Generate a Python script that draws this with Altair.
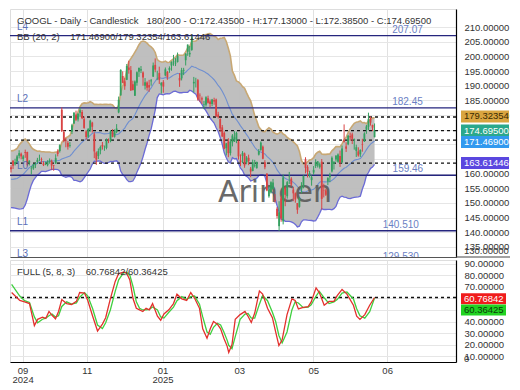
import altair as alt
import pandas as pd
import numpy as np

# ---------------- GOOGL daily OHLC (20 warm-up bars, then 180 shown bars) ----------------
opens = [164.2,164.3,162.6,162.2,161.7,156.7,156.4,157.3,152.5,149.4,149.0,152.2,155.4,157.3,159.3,160.0,163.0,164.2,164.6,162.8,
         162.2,164.4,163.2,164.1,166.1,166.8,165.0,167.4,167.4,163.8,
         161.8,161.8,162.9,164.0,165.5,164.9,163.5,163.4,162.9,164.0,
         164.4,162.9,163.5,167.6,167.7,181.8,174.2,171.5,170.5,169.4,
         174.3,177.1,180.2,178.5,180.8,181.0,178.6,174.4,172.6,174.8,
         177.4,173.4,167.2,166.0,167.9,169.8,169.0,168.8,171.5,171.1,
         174.4,172.6,174.3,180.9,186.7,193.3,191.5,192.0,196.2,195.3,
         190.5,186.6,191.0,194.8,195.2,194.5,190.0,191.1,190.2,191.5,
         193.1,197.1,193.9,194.3,190.1,191.2,193.5,194.7,195.4,196.9,
         198.2,197.6,198.1,192.6,192.5,195.1,198.7,201.6,200.7,202.2,
         190.8,191.6,191.9,186.6,185.7,183.4,183.5,185.7,184.6,183.8,
         185.1,185.3,180.2,178.6,175.8,173.9,168.7,171.0,167.0,170.7,
         171.0,171.6,171.0,164.5,166.0,166.9,163.9,165.4,161.7,160.9,
         162.6,161.9,166.5,168.1,169.2,163.9,160.0,152.3,153.6,154.8,
         150.9,148.0,142.1,151.6,143.7,155.3,152.3,159.0,158.3,154.6,
         153.3,150.0,148.7,154.6,155.6,164.9,162.3,159.2,157.8,160.4,
         162.6,162.8,162.2,164.1,154.4,154.3,157.3,158.8,160.7,163.4,
         164.8,164.1,166.0,163.9,171.4,169.3,170.0,172.8,173.4,171.4,
         167.8,167.6,166.6,170.0,171.0,175.0,176.0,178.9,176.6,172.435]
highs = [165.2,164.8,164.6,163.6,162.0,159.4,158.5,157.8,153.4,149.6,151.5,155.0,158.0,158.5,161.0,161.2,163.6,164.9,164.8,163.3,
         162.9,164.6,165.1,166.4,168.0,167.2,166.4,168.2,167.5,164.6,
         162.6,163.3,163.9,165.4,166.5,165.5,164.2,164.1,164.6,165.2,
         164.8,163.0,166.6,168.3,170.0,182.6,174.9,172.2,171.1,170.8,
         177.0,181.0,181.5,180.6,182.5,181.7,179.5,174.8,175.5,178.4,
         177.7,174.1,167.6,168.6,169.6,170.8,169.6,172.0,172.0,174.8,
         175.2,175.1,176.9,186.3,195.6,194.9,192.7,197.4,198.5,196.7,
         191.7,191.8,194.9,196.1,196.7,194.9,192.6,191.5,192.0,192.3,
         197.9,199.3,195.1,196.5,191.2,191.9,196.2,195.0,196.6,198.3,
         200.5,199.4,201.3,194.3,196.1,196.1,201.1,204.1,203.5,207.1,
         193.0,192.7,192.3,187.4,186.3,184.8,186.4,186.6,185.3,185.5,
         185.9,185.6,181.1,178.9,176.6,174.4,170.5,172.1,171.8,173.5,
         174.5,174.3,171.3,166.6,167.7,167.2,166.0,166.5,162.3,164.8,
         164.7,164.1,168.4,171.0,169.6,164.6,160.2,155.8,157.4,158.2,
         153.0,148.6,150.6,152.5,159.7,155.6,157.5,160.6,158.8,155.5,
         153.6,150.0,152.0,157.1,159.4,165.6,162.9,161.0,159.4,162.6,
         164.9,164.3,163.8,165.0,156.6,154.8,158.8,160.3,165.9,164.3,
         166.2,166.9,167.9,169.6,176.8,170.7,173.2,174.0,174.0,172.0,
         169.9,169.0,168.3,171.9,174.1,176.6,180.8,179.5,176.7,177.13]
lows = [162.9,161.3,161.0,160.5,156.6,155.9,155.9,150.5,147.2,146.5,147.0,151.6,155.0,156.4,158.4,158.8,160.7,161.7,160.9,160.8,
        160.4,161.6,162.8,163.6,165.2,164.9,164.1,165.4,162.5,162.8,
        159.7,161.3,161.9,163.3,164.3,163.5,162.6,162.9,162.5,163.4,
        161.2,161.0,163.3,165.9,167.2,174.2,170.7,169.0,168.2,168.9,
        173.5,177.0,178.0,177.8,179.4,178.6,175.3,171.6,172.2,174.3,
        174.0,165.3,163.0,165.0,166.6,168.2,167.8,168.3,170.4,170.7,
        172.4,172.3,173.8,180.6,186.6,190.8,188.6,191.9,194.1,188.2,
        188.4,186.5,190.0,193.0,194.3,190.0,188.7,188.3,187.9,190.0,
        193.0,194.6,191.9,190.6,187.3,187.6,193.2,192.0,194.4,195.1,
        196.8,196.7,197.9,189.6,191.8,193.6,196.9,200.2,199.8,201.9,
        187.7,189.4,184.9,184.5,183.8,182.0,182.9,183.9,182.6,183.0,
        183.5,179.3,178.8,174.3,172.5,168.3,166.2,165.6,166.2,169.3,
        170.8,170.4,164.8,162.6,163.6,162.0,163.2,162.9,158.8,160.8,
        162.1,161.7,166.2,167.8,164.9,161.5,154.0,151.8,153.2,154.6,
        150.1,144.7,140.5,143.6,142.7,148.9,151.5,156.5,155.7,150.6,
        150.1,146.3,148.4,153.3,155.0,160.1,158.7,158.7,155.9,159.6,
        161.9,162.1,161.7,147.8,151.9,152.4,156.1,157.1,160.4,161.4,
        164.1,163.7,162.3,163.5,170.6,167.4,169.7,171.2,170.1,168.2,
        165.7,165.8,165.7,167.5,170.8,173.6,174.8,176.4,174.5,172.385]
closes = [164.7,162.1,161.8,163.4,157.4,156.5,157.2,150.9,148.7,148.7,151.2,154.7,157.5,158.1,160.3,159.8,163.2,164.6,161.9,162.3,
          161.5,162.7,164.0,165.9,167.0,165.9,165.9,167.1,163.0,164.4,
          161.9,163.2,163.2,164.7,165.5,164.7,162.9,163.4,164.1,164.5,
          162.8,162.7,165.3,166.7,169.7,174.5,171.1,171.3,169.2,169.7,
          176.5,180.8,178.4,180.4,181.6,178.9,175.6,172.5,175.3,178.1,
          176.0,167.6,164.8,167.7,169.1,169.2,169.0,171.5,171.3,174.4,
          172.6,174.7,175.4,185.2,195.4,191.0,189.8,196.7,195.4,188.4,
          188.5,191.4,194.6,196.1,195.6,192.8,191.2,189.3,189.4,191.8,
          196.9,195.5,193.9,192.0,191.0,189.7,195.6,192.9,196.0,198.1,
          198.4,197.9,200.2,191.8,195.3,195.4,200.9,204.0,201.2,206.4,
          191.3,191.6,185.3,186.5,185.3,183.6,186.1,184.2,183.8,185.3,
          184.6,179.7,179.3,175.4,172.7,168.5,170.3,167.0,170.9,173.0,
          172.4,173.9,165.9,164.0,167.1,162.8,165.5,164.3,160.7,163.9,
          162.8,164.0,167.7,170.6,165.1,162.2,154.3,154.6,157.1,157.0,
          150.7,145.6,146.8,144.7,158.7,152.8,157.1,159.1,156.3,153.3,
          151.2,147.7,151.5,155.4,159.3,162.0,160.6,160.2,158.8,161.3,
          164.0,164.2,163.2,151.4,154.3,152.8,158.5,159.5,165.4,164.0,
          166.2,166.5,164.0,168.6,170.9,168.5,172.9,172.4,171.9,171.7,
          169.0,166.2,168.1,169.8,173.7,176.1,178.6,177.4,175.7,174.695]
WARMUP = 20

# ---------------- Full stochastic (5, 8, 3) ----------------
st_i = [0.3,4.3,6.7,9.1,11.5,13.1,15.5,17.1,18.7,20.2,21.9,23.4,25.0,27.4,29.8,32.2,33.8,36.2,37.8,40.2,
        42.6,45.0,46.6,48.9,51.3,53.0,55.4,56.9,58.5,60.1,61.7,63.3,64.9,66.5,68.1,69.7,72.1,73.7,75.3,77.7,
        80.0,81.7,84.1,86.5,88.5,90.4,92.8,94.4,96.5,98.1,99.7,101.6,103.2,104.8,106.4,107.2,108.8,110.4,112.8,115.2,
        116.7,118.3,120.0,122.3,123.9,126.3,128.7,130.3,131.9,133.5,135.9,138.3,139.9,141.5,143.9,146.3,147.8,150.2,151.8,154.2,
        156.6,159.0,160.6,163.0,165.4,168.6,170.2,171.8,174.2,176.6,179.0]
st_k = [65.0,58.2,56.9,55.5,36.5,41.9,43.8,42.7,48.7,45.4,42.4,48.7,59.0,55.5,54.7,57.4,65.0,64.5,58.2,44.6,
        31.8,37.8,43.3,59.6,74.6,81.4,82.7,81.9,75.9,59.6,51.4,50.1,48.7,51.4,50.1,55.5,44.6,41.1,46.5,50.1,
        55.5,63.7,59.6,58.2,65.0,60.1,51.4,33.7,25.6,33.7,40.0,37.8,33.7,25.6,18.8,13.3,20.1,41.9,46.0,48.7,
        44.6,39.2,47.3,66.4,63.7,51.4,43.3,31.0,19.3,24.2,46.0,59.6,58.2,50.9,52.2,52.8,56.9,69.1,65.0,54.1,
        57.4,57.4,62.3,67.7,63.7,54.1,44.6,41.9,46.0,54.1,60.77]
st_d = [72.0,62.0,58.0,56.5,44.0,39.0,42.0,43.0,45.0,46.5,44.0,45.0,53.0,57.0,55.0,56.0,61.0,65.0,62.0,51.0,
        37.0,34.0,39.0,50.0,66.0,76.0,82.0,82.5,80.0,70.0,57.0,51.5,50.0,50.0,50.5,52.5,50.0,44.0,43.0,48.0,
        52.5,58.0,61.5,59.0,61.5,62.0,55.0,44.0,31.0,29.0,35.0,38.5,37.0,31.0,24.0,19.5,16.5,27.0,42.0,46.5,
        47.0,43.0,43.0,55.0,62.5,58.0,48.0,40.0,28.0,21.5,31.0,50.0,57.0,56.0,52.0,52.5,54.5,62.0,66.0,60.5,
        55.5,57.0,59.0,64.5,65.5,59.5,51.0,45.0,43.0,48.5,60.36]

# ---------------- levels, current values, axis ticks ----------------
level_names = ["L4", "L2", "L0", "L1", "L3"]
level_values = [207.07, 182.45, 159.46, 140.51, 129.53]
level_texts = ["207.07", "182.45", "159.46", "140.510", "129.530"]
level_text_i = [195.2, 195.2, 195.4, 191.9, 191.9]
dashed_values = [179.32354, 174.695, 171.469, 163.61446]

box_texts = ["179.32354", "174.69500", "171.46900", "163.61446"]
box_values = [179.32354, 174.695, 171.469, 163.61446]
box_shift = [0.2, 0.0, -0.7, 0.0]
box_fill = ["#d9a540", "#2aa88c", "#3199ef", "#5a47df"]
box_tcol = ["#3a2a00", "#ffffff", "#ffffff", "#ffffff"]

st_box_texts = ["60.76842", "60.36425"]
st_box_values = [60.76842, 60.36425]
st_box_shift = [-1.0, -10.5]
st_box_fill = ["#f01c1c", "#22d322"]
st_box_tcol = ["#ffffff", "#0b3a0b"]
st_dash = 60.76842

tick_pos = [5.7, 37.3, 74.6, 112.4, 148.8, 185.2]
tick_top = ["09", "11", "01", "03", "05", "06"]
tick_sub = ["2024", "", "2025", "", "", ""]
price_ticks = [135, 140, 145, 150, 155, 160, 165, 170, 175, 180, 185, 190, 195, 200, 205, 210]
stoch_ticks = [10, 20, 30, 40, 50, 60, 70, 80, 90]
clamped_price_label = "130.00000"
clamped_stoch_label = "0"

title_main = "GOOGL - Daily - Candlestick\u00a0\u00a0\u00a0180/200 - O:172.43500 - H:177.13000 - L:172.38500 - C:174.69500"
title_bb = "BB (20, 2)\u00a0\u00a0\u00a0\u00a0171.46900/179.32354/163.61446"
title_st = "FULL (5, 8, 3)\u00a0\u00a0\u00a0\u00a060.76842/60.36425"

# ---------------- derived tables ----------------
df = pd.DataFrame({"i": list(range(-WARMUP, len(closes) - WARMUP)),
                   "o": opens, "h": highs, "l": lows, "c": closes})
roll = df["c"].rolling(20)
df["mid"] = roll.mean()
df["sd"] = roll.std(ddof=0)
df["up"] = df["mid"] + 2 * df["sd"]
df["lo"] = df["mid"] - 2 * df["sd"]
df["dir"] = np.where(df["c"] >= df["o"], "up", "down")
bars = df[df["i"] >= 0].reset_index(drop=True)

levels = pd.DataFrame({"name": level_names, "p": level_values, "t": level_texts, "ti": level_text_i})
dashes = pd.DataFrame({"p": dashed_values})
boxes = pd.DataFrame({"t": box_texts, "v": box_values, "s": box_shift, "f": box_fill, "tc": box_tcol})
boxes["c"] = boxes["v"] + boxes["s"]
boxes["b0"] = boxes["c"] - 2.05
boxes["b1"] = boxes["c"] + 2.05
st = pd.DataFrame({"i": st_i, "k": st_k, "d": st_d})
st_boxes = pd.DataFrame({"t": st_box_texts, "v": st_box_values, "s": st_box_shift,
                         "f": st_box_fill, "tc": st_box_tcol})
st_boxes["c"] = st_boxes["v"] + st_boxes["s"]
st_boxes["b0"] = st_boxes["c"] - 4.75
st_boxes["b1"] = st_boxes["c"] + 4.75

# ---------------- layout / scales ----------------
W, H1, H2 = 446, 248, 102
FS = 9.5
xs = alt.Scale(domain=[-0.5, 219.1], nice=False, zero=False)
ys = alt.Scale(domain=[131.58, 216.16], nice=False, zero=False)
ss = alt.Scale(domain=[5.1, 93.1], nice=False, zero=False)

xax_top = alt.Axis(values=tick_pos, labels=False, ticks=False, grid=True, gridColor="#e1e1e1",
                   domainColor="#555555", domainWidth=1, title=None)
parts = [f"['{a}','{b}']" if b else f"'{a}'" for a, b in zip(tick_top, tick_sub)]
label_expr = f"[{','.join(parts)}][indexof([{','.join(str(p) for p in tick_pos)}], datum.value)]"
xax_bot = alt.Axis(values=tick_pos, labelExpr=label_expr, ticks=False, grid=True, gridColor="#e1e1e1",
                   domainColor="#000000", domainWidth=1.2, labelFontSize=FS, labelColor="#333333",
                   labelPadding=3, labelLineHeight=9, labelAngle=0, title=None)
yax_main = alt.Axis(orient="right", values=price_ticks, format=".5f", ticks=False, labelPadding=8,
                    grid=True, gridColor="#e6e6e6", domainColor="#000000", domainWidth=1.2,
                    labelFontSize=FS, labelColor="#333333", title=None)
yax_st = alt.Axis(orient="right", values=stoch_ticks, format=".5f", ticks=False, labelPadding=8,
                  grid=True, gridColor="#e6e6e6", domainColor="#000000", domainWidth=1.2,
                  labelFontSize=FS, labelColor="#333333", title=None)

def X(f):
    return alt.X(f, type="quantitative", scale=xs, axis=xax_top)

def Y(f):
    return alt.Y(f, type="quantitative", scale=ys, axis=yax_main)

def XS(f):
    return alt.X(f, type="quantitative", scale=xs, axis=xax_bot)

def YS(f):
    return alt.Y(f, type="quantitative", scale=ss, axis=yax_st)

def note(text, x, y, **kw):
    opts = dict(align="left", baseline="middle", fontSize=FS, color="#333333")
    opts.update(kw)
    return alt.Chart(pd.DataFrame({"t": [text]})).mark_text(**opts).encode(
        x=alt.value(x), y=alt.value(y), text="t:N")

base = alt.Chart(bars)
candle_color = alt.Color("dir:N", scale=alt.Scale(domain=["up", "down"], range=["#34a060", "#d94343"]), legend=None)

band = base.mark_area(color="#bcbcbc", opacity=0.95, clip=True).encode(x=X("i"), y=Y("up"), y2="lo")
up_line = base.mark_line(color="#c8a874", strokeWidth=1.6, clip=True).encode(x=X("i"), y=Y("up"))
lo_line = base.mark_line(color="#6b6bd6", strokeWidth=1.3, clip=True).encode(x=X("i"), y=Y("lo"))
mid_line = base.mark_line(color="#6f8fd0", strokeWidth=1.1, clip=True).encode(x=X("i"), y=Y("mid"))
lvl_rules = alt.Chart(levels).mark_rule(color="#25257e", strokeWidth=1.4, clip=True).encode(y=Y("p"))
dash_rules = alt.Chart(dashes).mark_rule(color="#111111", strokeWidth=1.3, strokeDash=[3, 3], clip=True).encode(y=Y("p"))
watermark = note("Arincen", 265, 184, font="DejaVu Sans", fontSize=30, color="#5a5a5a", opacity=0.9, align="center")
wicks = base.mark_rule(strokeWidth=1, clip=True).encode(x=X("i"), y=Y("l"), y2="h", color=candle_color)
bodies = base.mark_rule(strokeWidth=1.8, clip=True).encode(x=X("i"), y=Y("o"), y2="c", color=candle_color)
lvl_names = alt.Chart(levels).mark_text(align="left", baseline="middle", dy=-9, fontSize=10,
                                        color="#5a6fb8", clip=True).encode(x=alt.value(7), y=Y("p"), text="name:N")
lvl_vals = alt.Chart(levels).mark_text(align="center", baseline="middle", dy=-6, fontSize=10,
                                       color="#6a80c4", clip=True).encode(x=X("ti"), y=Y("p"), text="t:N")
t1 = note(title_main, 7, 11.5)
t2 = note(title_bb, 7, 27.5)
low_lbl = note(clamped_price_label, W + 8, H1 - 6)
sep_ext = alt.Chart(pd.DataFrame({"a": [0]})).mark_rule(color="#444444", strokeWidth=1).encode(
    x=alt.value(W), x2=alt.value(W + 54), y=alt.value(H1))
box_rect = alt.Chart(boxes).mark_rect().encode(
    x=alt.value(W + 5), x2=alt.value(W + 53), y=Y("b0"), y2="b1", color=alt.Color("f:N", scale=None))
box_txt = alt.Chart(boxes).mark_text(align="left", baseline="middle", fontSize=FS).encode(
    x=alt.value(W + 8), y=Y("c"), text="t:N", color=alt.Color("tc:N", scale=None))

top = alt.layer(band, up_line, lo_line, mid_line, lvl_rules, dash_rules, watermark, wicks, bodies,
                lvl_names, lvl_vals, t1, t2, low_lbl, sep_ext, box_rect, box_txt).properties(width=W, height=H1)

stb = alt.Chart(st)
st_dash_rule = alt.Chart(pd.DataFrame({"v": [st_dash]})).mark_rule(
    color="#111111", strokeWidth=1.3, strokeDash=[3, 3]).encode(y=YS("v"))
d_line = stb.mark_line(color="#3fcf3f", strokeWidth=1.3, clip=True).encode(x=XS("i"), y=YS("d"))
k_line = stb.mark_line(color="#e3302c", strokeWidth=1.3, clip=True).encode(x=XS("i"), y=YS("k"))
t3 = note(title_st, 7, 11.5)
zero_lbl = note(clamped_stoch_label, W + 8, H2 - 3)
st_rect = alt.Chart(st_boxes).mark_rect().encode(
    x=alt.value(W + 5), x2=alt.value(W + 50), y=YS("b0"), y2="b1", color=alt.Color("f:N", scale=None))
st_txt = alt.Chart(st_boxes).mark_text(align="left", baseline="middle", fontSize=FS).encode(
    x=alt.value(W + 8), y=YS("c"), text="t:N", color=alt.Color("tc:N", scale=None))

bottom = alt.layer(st_dash_rule, d_line, k_line, t3, zero_lbl, st_rect, st_txt).properties(width=W, height=H2)

chart = alt.vconcat(top, bottom, spacing=0).properties(padding=0).configure_view(stroke=None).configure(
    font="Liberation Sans", background="white")

chart.save("out.html", embed_options={"renderer": "svg", "actions": False})
